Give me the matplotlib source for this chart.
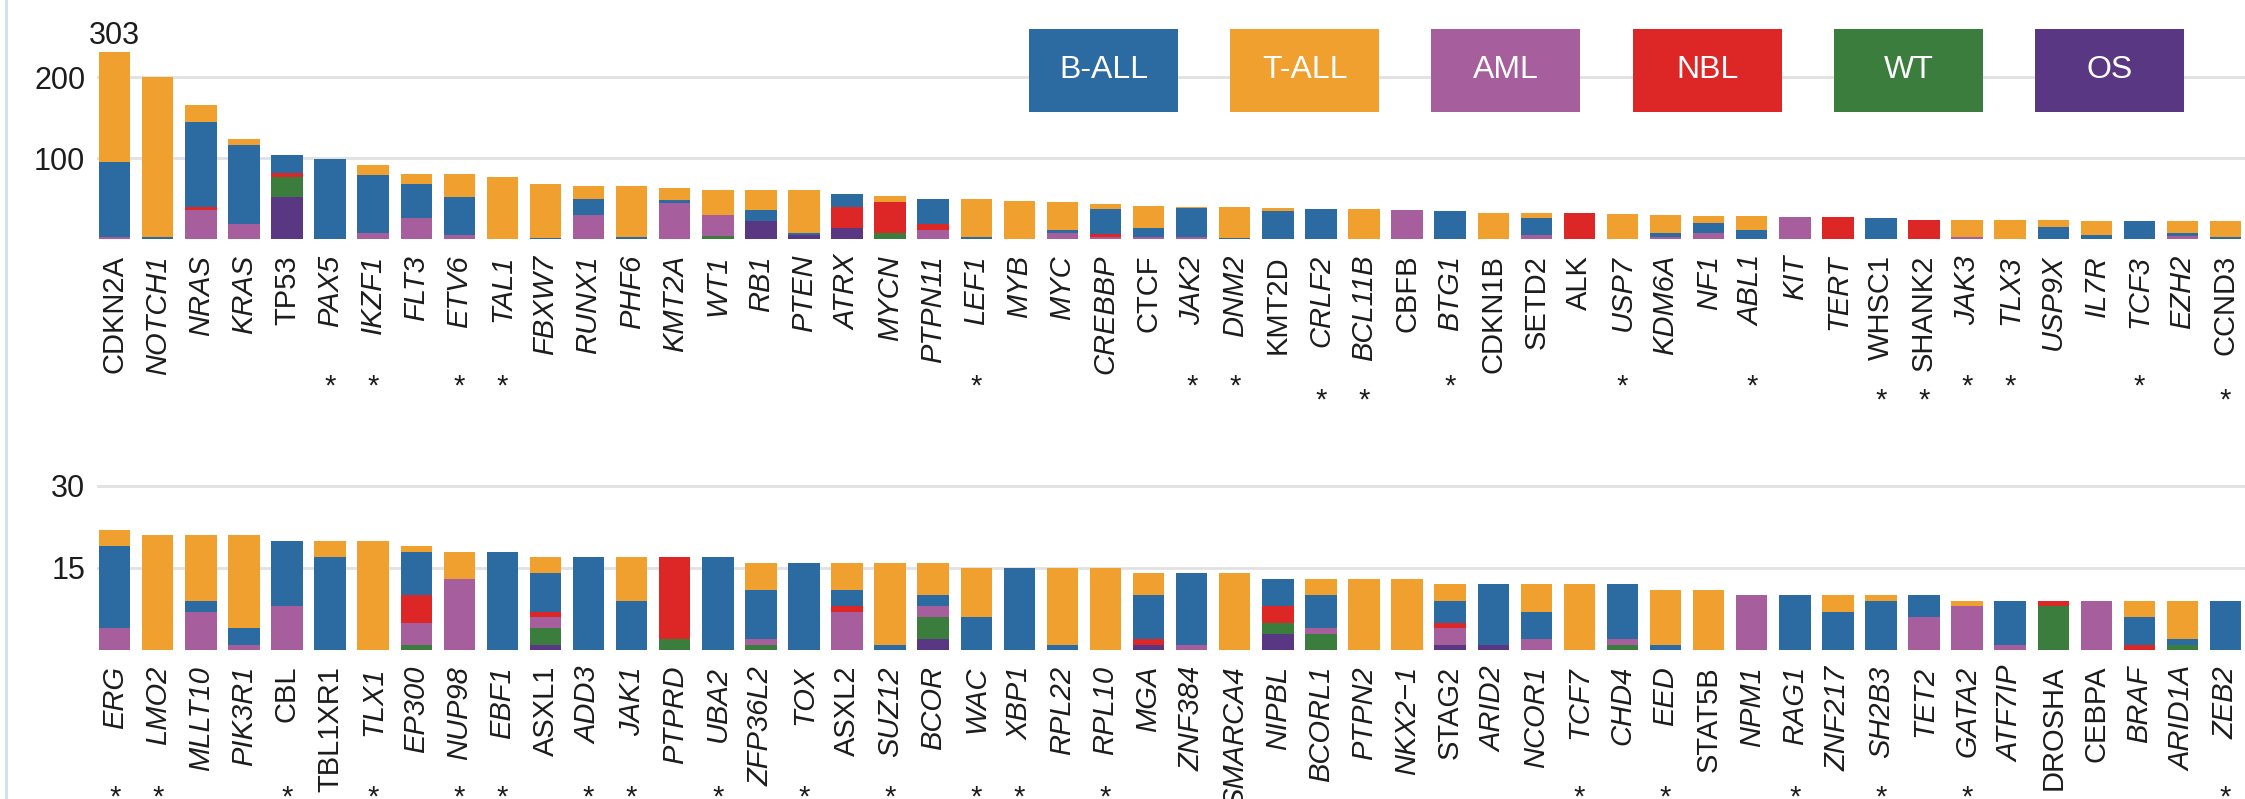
import matplotlib
matplotlib.use("Agg")
import matplotlib.pyplot as plt
from matplotlib.patches import Rectangle
from matplotlib.lines import Line2D
import numpy as np

plt.rcParams["font.family"] = ["Liberation Sans", "DejaVu Sans"]

# ---------------------------------------------------------------- data
cancer_types = ["B-ALL", "T-ALL", "AML", "NBL", "WT", "OS"]
colors = {
    "B-ALL": "#2c6ba1",
    "T-ALL": "#f0a02f",
    "AML": "#a65e9c",
    "NBL": "#dd2726",
    "WT": "#3a7d3d",
    "OS": "#5a3783",
}
stack_order = ["OS", "WT", "AML", "NBL", "B-ALL", "T-ALL"]

top_genes = ["CDKN2A", "NOTCH1", "NRAS", "KRAS", "TP53", "PAX5", "IKZF1", "FLT3", "ETV6", "TAL1",
             "FBXW7", "RUNX1", "PHF6", "KMT2A", "WT1", "RB1", "PTEN", "ATRX", "MYCN", "PTPN11",
             "LEF1", "MYB", "MYC", "CREBBP", "CTCF", "JAK2", "DNM2", "KMT2D", "CRLF2", "BCL11B",
             "CBFB", "BTG1", "CDKN1B", "SETD2", "ALK", "USP7", "KDM6A", "NF1", "ABL1", "KIT",
             "TERT", "WHSC1", "SHANK2", "JAK3", "TLX3", "USP9X", "IL7R", "TCF3", "EZH2", "CCND3"]
top_os = [0, 0, 0, 0, 52, 0, 0, 0, 0, 0, 0, 0, 0, 0, 0, 22, 5, 13, 0, 0,
          0, 0, 0, 0, 0, 0, 0, 0, 0, 0, 0, 0, 0, 0, 0, 0, 0, 0, 0, 0,
          0, 0, 0, 0, 0, 0, 0, 0, 0, 0]
top_wt = [0, 0, 0, 0, 25, 0, 0, 0, 0, 0, 0, 0, 0, 0, 4, 0, 0, 0, 8, 0,
          0, 0, 0, 0, 0, 0, 0, 0, 0, 0, 0, 0, 0, 0, 0, 0, 0, 0, 0, 0,
          0, 0, 0, 0, 0, 0, 0, 0, 0, 0]
top_aml = [3, 0, 36, 18, 0, 0, 7, 26, 5, 0, 0, 30, 0, 44, 26, 0, 0, 0, 0, 11,
           0, 0, 7, 3, 3, 3, 0, 0, 0, 0, 36, 0, 0, 5, 0, 0, 2, 7, 0, 27,
           0, 0, 0, 3, 0, 0, 0, 0, 4, 0]
top_nbl = [0, 0, 4, 0, 4, 0, 0, 0, 0, 0, 0, 0, 0, 0, 0, 0, 0, 27, 38, 8,
           0, 0, 0, 3, 0, 0, 0, 0, 0, 0, 0, 0, 0, 0, 32, 0, 0, 0, 0, 0,
           27, 0, 24, 0, 0, 0, 0, 0, 0, 0]
top_ball = [92, 2, 104, 98, 23, 99, 72, 42, 47, 0, 1, 20, 3, 4, 0, 14, 2, 15, 0, 30,
            3, 0, 4, 31, 11, 35, 1, 34, 37, 0, 0, 34, 0, 21, 0, 0, 6, 13, 11, 0,
            0, 26, 0, 0, 0, 15, 5, 22, 3, 3]
top_tall = [208, 198, 21, 8, 0, 0, 12, 12, 28, 77, 67, 16, 63, 15, 31, 25, 53, 0, 7, 1,
            46, 47, 35, 6, 27, 2, 39, 4, 0, 37, 0, 0, 32, 6, 0, 31, 22, 8, 17, 0,
            0, 0, 0, 21, 24, 8, 17, 0, 15, 19]
top_stars = ["PAX5", "IKZF1", "ETV6", "TAL1", "LEF1", "JAK2", "DNM2", "BTG1", "USP7",
             "ABL1", "JAK3", "TLX3", "TCF3"]
top_stars_low = ["CRLF2", "BCL11B", "WHSC1", "SHANK2", "CCND3"]
top_ticks = [100, 200]

bot_genes = ["ERG", "LMO2", "MLLT10", "PIK3R1", "CBL", "TBL1XR1", "TLX1", "EP300", "NUP98", "EBF1",
             "ASXL1", "ADD3", "JAK1", "PTPRD", "UBA2", "ZFP36L2", "TOX", "ASXL2", "SUZ12", "BCOR",
             "WAC", "XBP1", "RPL22", "RPL10", "MGA", "ZNF384", "SMARCA4", "NIPBL", "BCORL1", "PTPN2",
             "NKX2\u22121", "STAG2", "ARID2", "NCOR1", "TCF7", "CHD4", "EED", "STAT5B", "NPM1", "RAG1",
             "ZNF217", "SH2B3", "TET2", "GATA2", "ATF7IP", "DROSHA", "CEBPA", "BRAF", "ARID1A", "ZEB2"]
bot_os = [0, 0, 0, 0, 0, 0, 0, 0, 0, 0, 1, 0, 0, 0, 0, 0, 0, 0, 0, 2,
          0, 0, 0, 0, 1, 0, 0, 3, 0, 0, 0, 1, 1, 0, 0, 0, 0, 0, 0, 0,
          0, 0, 0, 0, 0, 0, 0, 0, 0, 0]
bot_wt = [0, 0, 0, 0, 0, 0, 0, 1, 0, 0, 3, 0, 0, 2, 0, 1, 0, 0, 0, 4,
          0, 0, 0, 0, 0, 0, 0, 2, 3, 0, 0, 0, 0, 0, 0, 1, 0, 0, 0, 0,
          0, 0, 0, 0, 0, 8, 0, 0, 1, 0]
bot_aml = [4, 0, 7, 1, 8, 0, 0, 4, 13, 0, 2, 0, 0, 0, 0, 1, 0, 7, 0, 2,
           0, 0, 0, 0, 0, 1, 0, 0, 1, 0, 0, 3, 0, 2, 0, 1, 0, 0, 10, 0,
           0, 0, 6, 8, 1, 0, 9, 0, 0, 0]
bot_nbl = [0, 0, 0, 0, 0, 0, 0, 5, 0, 0, 1, 0, 0, 15, 0, 0, 0, 1, 0, 0,
           0, 0, 0, 0, 1, 0, 0, 3, 0, 0, 0, 1, 0, 0, 0, 0, 0, 0, 0, 0,
           0, 0, 0, 0, 0, 1, 0, 1, 0, 0]
bot_ball = [15, 0, 2, 3, 12, 17, 0, 8, 0, 18, 7, 17, 9, 0, 17, 9, 16, 3, 1, 2,
            6, 15, 1, 0, 8, 13, 0, 5, 6, 0, 0, 4, 11, 5, 0, 10, 1, 0, 0, 10,
            7, 9, 4, 0, 8, 0, 0, 5, 1, 9]
bot_tall = [3, 21, 12, 17, 0, 3, 20, 1, 5, 0, 3, 0, 8, 0, 0, 5, 0, 5, 15, 6,
            9, 0, 14, 15, 4, 0, 14, 0, 3, 13, 13, 3, 0, 5, 12, 0, 10, 11, 0, 0,
            3, 1, 0, 1, 0, 0, 0, 3, 7, 0]
bot_stars = ["ERG", "LMO2", "CBL", "TLX1", "NUP98", "EBF1", "ADD3", "JAK1", "UBA2", "TOX",
             "SUZ12", "WAC", "XBP1", "RPL10", "TCF7", "EED", "RAG1", "SH2B3", "GATA2", "ZEB2"]
bot_stars_low = ["MLLT10", "PTPRD", "ZFP36L2", "ZNF384", "NIPBL", "BCORL1", "PTPN2",
                 "STAT5B", "ATF7IP"]
bot_ticks = [15, 30]

# gene symbols set in roman type; all others italic
upright_labels = {"CDKN2A", "TP53", "CTCF", "KMT2D", "CBFB", "CDKN1B", "SETD2", "ALK",
                  "WHSC1", "SHANK2", "CCND3", "CBL", "TBL1XR1", "ASXL1", "ASXL2",
                  "STAG2", "STAT5B", "DROSHA", "CEBPA"}

# ---------------------------------------------------------------- figure
W, H = 2245, 799
fig = plt.figure(figsize=(W / 100, H / 100), dpi=100)
fig.patch.set_facecolor("white")

BAR_W = 0.73
XLIM = (-0.41, 49.45)
TEXT = "#1c1c1c"


def draw_panel(rect, genes, series, ylim, ticks, stars, stars_low):
    ax = fig.add_axes(rect)
    x = np.arange(len(genes))
    bottom = np.zeros(len(genes))
    for name in stack_order:
        vals = np.asarray(series[name], dtype=float)
        ax.bar(x, vals, bottom=bottom, width=BAR_W, color=colors[name],
               linewidth=0, zorder=2)
        bottom += vals
    ax.set_xlim(*XLIM)
    ax.set_ylim(*ylim)
    ax.set_yticks(ticks)
    ax.set_yticklabels([str(t) for t in ticks], fontsize=22, color=TEXT)
    ax.yaxis.grid(True, color="#e1e1e1", linewidth=2.0, zorder=0)
    ax.set_axisbelow(True)
    for s in ax.spines.values():
        s.set_visible(False)
    ax.tick_params(axis="y", length=0, pad=8.5)
    ax.set_xticks(x)
    ax.set_xticklabels(genes, rotation=90, fontsize=21, color=TEXT)
    ax.tick_params(axis="x", length=0, pad=11.5)
    for lab in ax.get_xticklabels():
        lab.set_fontstyle("normal" if lab.get_text() in upright_labels else "italic")
    for names, off in ((stars, 112), (stars_low, 122)):
        for g in names:
            i = genes.index(g)
            ax.annotate("*", xy=(i, 0), xycoords=("data", "axes fraction"),
                        xytext=(0, -off), textcoords="offset points",
                        ha="center", va="baseline", fontsize=21, color=TEXT,
                        annotation_clip=False)
    return ax, bottom


top_series = {"OS": top_os, "WT": top_wt, "AML": top_aml, "NBL": top_nbl,
              "B-ALL": top_ball, "T-ALL": top_tall}
bot_series = {"OS": bot_os, "WT": bot_wt, "AML": bot_aml, "NBL": bot_nbl,
              "B-ALL": bot_ball, "T-ALL": bot_tall}

ax_top, top_tot = draw_panel([97 / W, 560 / H, (W - 97) / W, 187 / H], top_genes,
                             top_series, (0, 231), top_ticks, top_stars, top_stars_low)
ax_bot, bot_tot = draw_panel([97 / W, 149 / H, (W - 97) / W, 175 / H], bot_genes,
                             bot_series, (0, 32), bot_ticks, bot_stars, bot_stars_low)

# value of the bar that runs past the top of the axis
ymax = ax_top.get_ylim()[1]
for i, tot in enumerate(top_tot):
    if tot > ymax:
        ax_top.annotate(f"{int(tot)}", xy=(i, 1), xycoords=("data", "axes fraction"),
                        xytext=(0, 6), textcoords="offset points", ha="center",
                        va="baseline", fontsize=22, color=TEXT, annotation_clip=False)

# legend as a row of coloured boxes
box_w, box_h, gap = 149, 83, 201.2
for k, name in enumerate(cancer_types):
    x0 = 1029 + k * gap
    fig.add_artist(Rectangle((x0 / W, 1 - 112 / H), box_w / W, box_h / H,
                             transform=fig.transFigure, facecolor=colors[name],
                             edgecolor="none", zorder=5))
    fig.text((x0 + box_w / 2) / W, 1 - 70.5 / H, name, ha="center", va="center",
             fontsize=23, color="white", zorder=6)

# thin frame line on the left edge
fig.add_artist(Line2D([6 / W, 6 / W], [0, 1], transform=fig.transFigure,
                      color="#d3e2f1", linewidth=2.2))

fig.savefig("out.png", dpi=100, facecolor="white")
